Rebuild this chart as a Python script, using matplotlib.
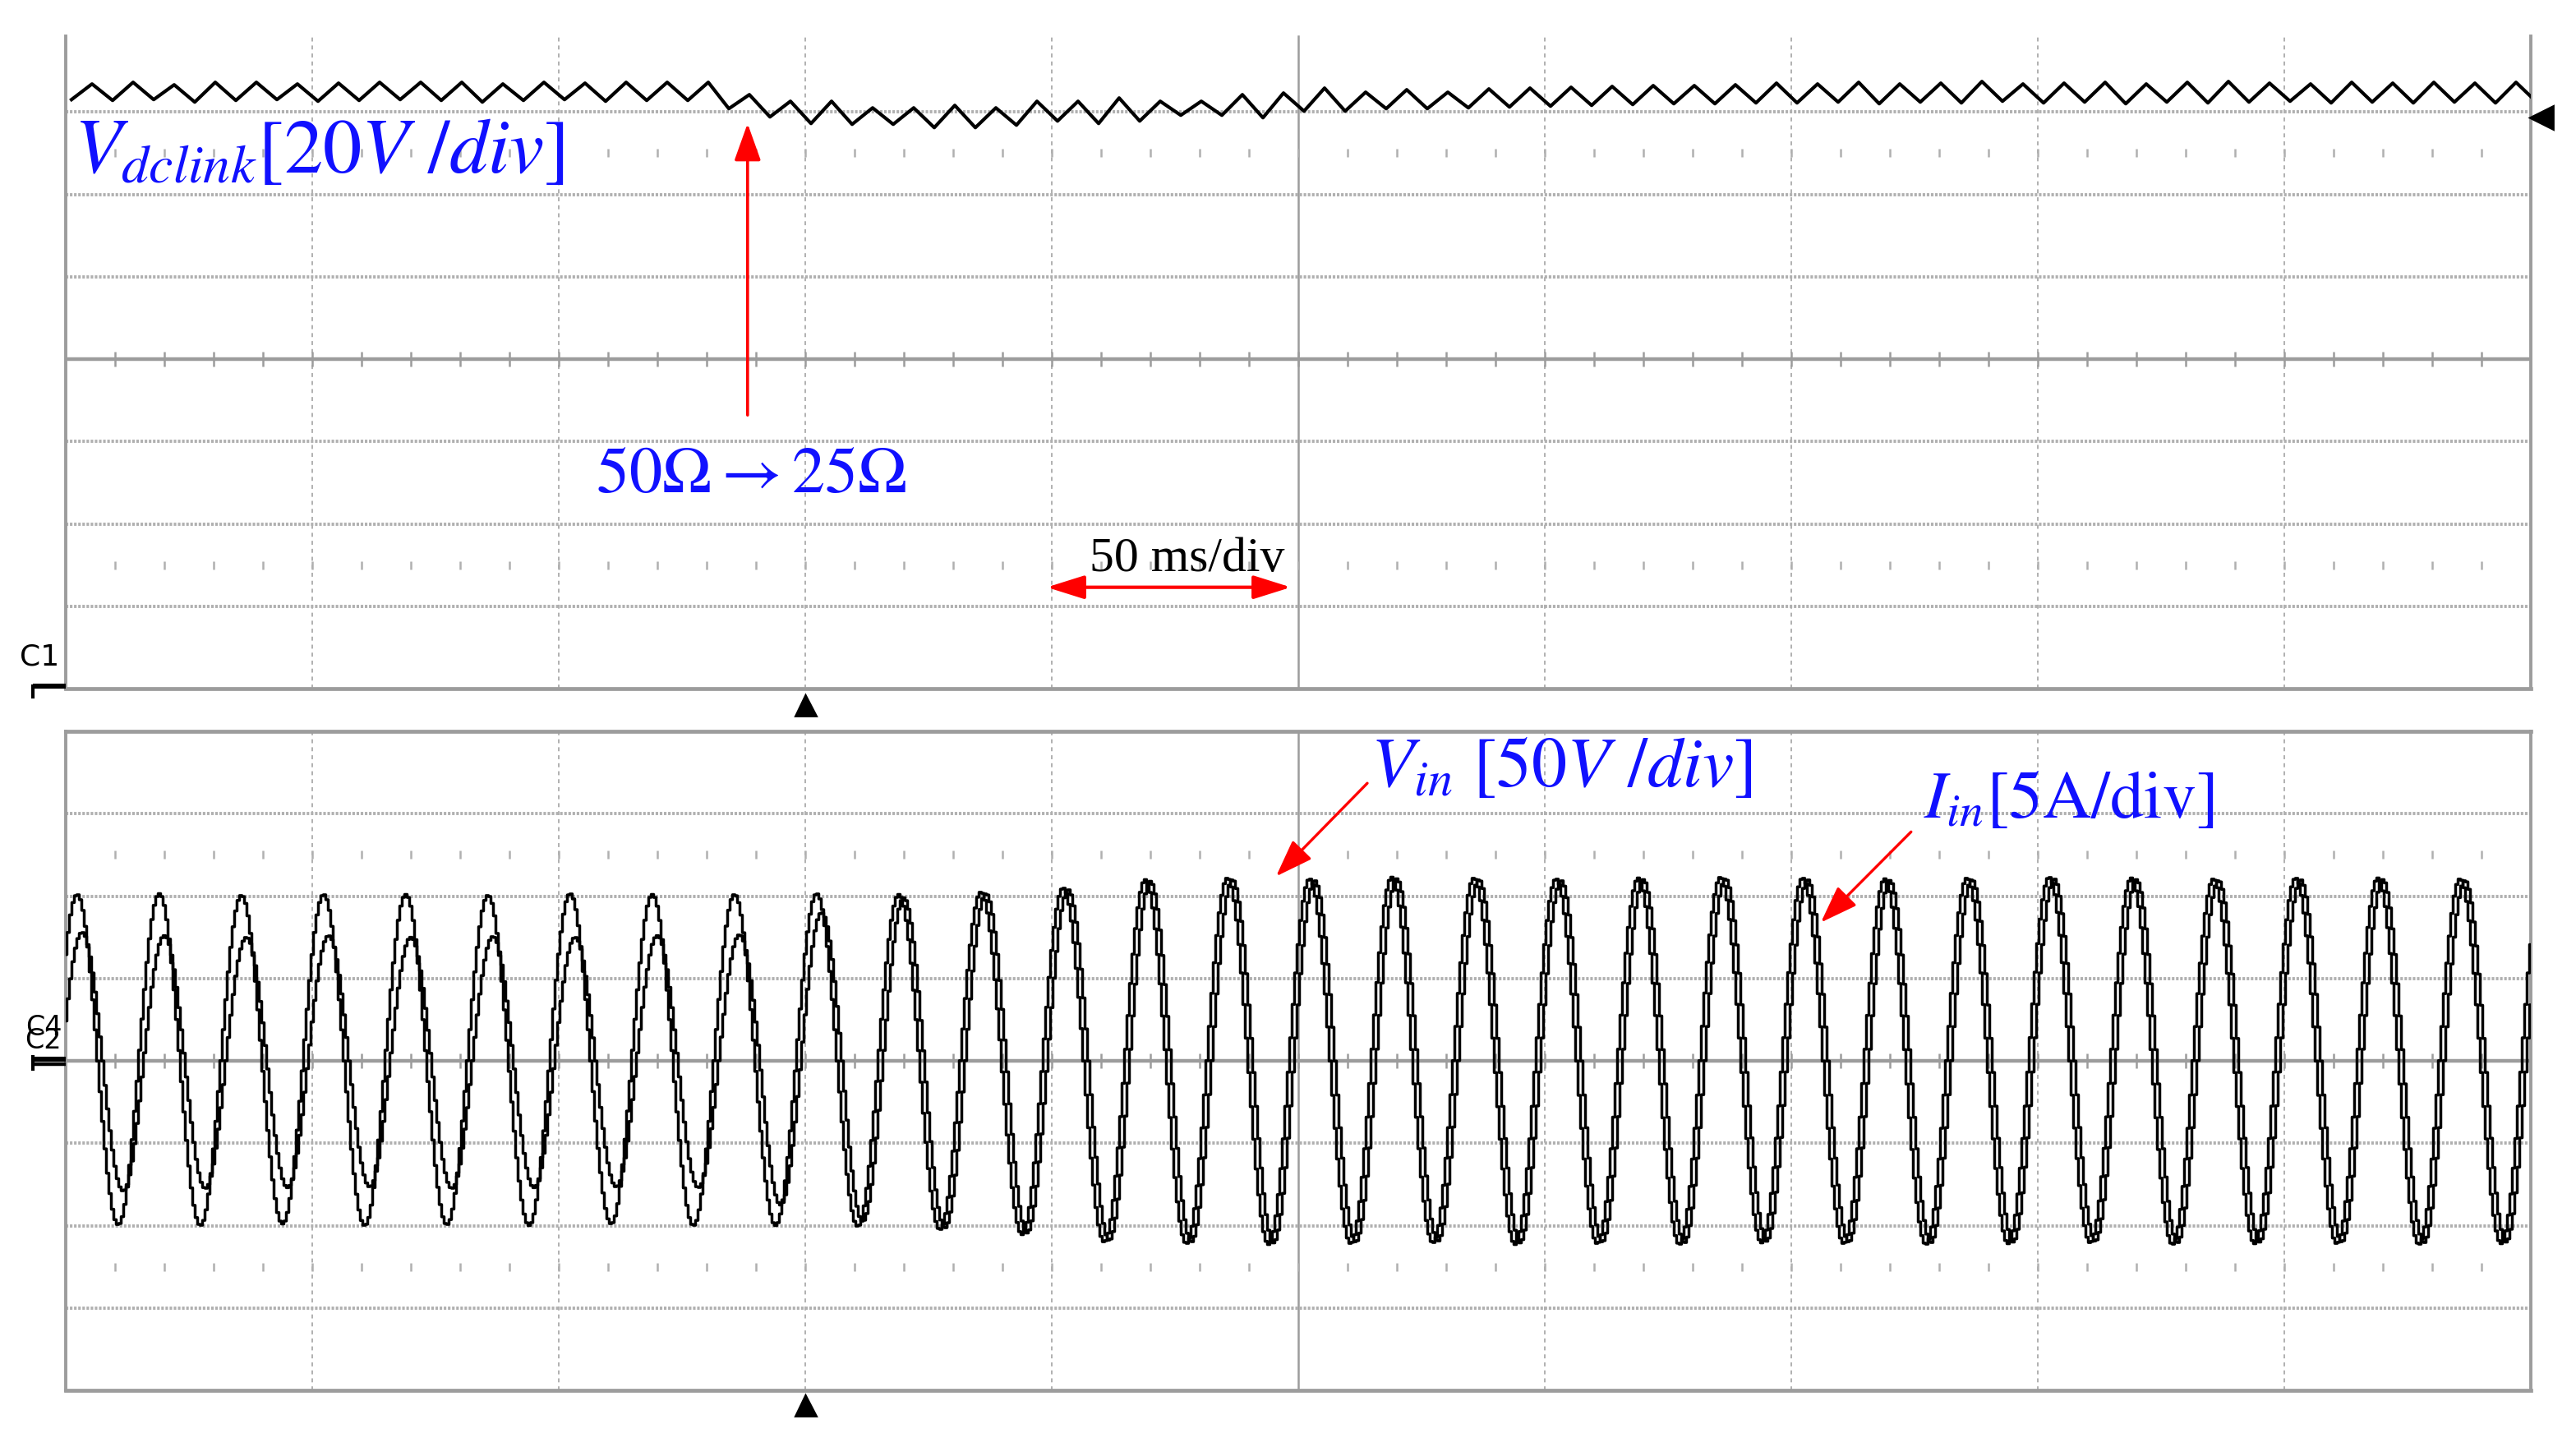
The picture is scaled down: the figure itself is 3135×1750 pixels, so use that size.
import numpy as np
import matplotlib
matplotlib.use('Agg')
import matplotlib.pyplot as plt

plt.rcParams['mathtext.fontset'] = 'stix'

# Escalas del osciloscopio
time_per_div = 50          # ms/div
screen_time = 500          # ms (10 div)
line_period = 1000 / 60    # ms, red de 60 Hz
ripple_period = line_period / 2

# V_dclink: picos y valles del rizado (en divisiones)
vdc_peak_t0 = 5.33
vdc_trough_t0 = 1.17
vdc_peaks = [3.34, 3.36, 3.33, 3.36, 3.36, 3.34, 3.35, 3.36, 3.36, 3.36, 3.34, 3.36, 3.35, 3.36, 3.36, 3.36,
             3.21, 3.13, 3.13, 3.05, 3.05, 3.08, 3.05, 3.13, 3.13, 3.17, 3.13, 3.13, 3.21, 3.23, 3.29, 3.24, 3.27, 3.24,
             3.28, 3.29, 3.30, 3.31, 3.32, 3.32, 3.33,
             3.35, 3.34, 3.36, 3.34, 3.35, 3.37, 3.34, 3.35, 3.36, 3.34, 3.36, 3.37, 3.35, 3.34, 3.36, 3.35, 3.36, 3.35, 3.36]
vdc_troughs = [3.15, 3.14, 3.15, 3.12, 3.14, 3.15, 3.13, 3.14, 3.15, 3.14, 3.12, 3.14, 3.15, 3.13, 3.14, 3.14,
               3.04, 2.94, 2.86, 2.85, 2.85, 2.81, 2.81, 2.84, 2.89, 2.86, 2.89, 2.96, 2.96, 2.93, 3.01, 3.01, 3.04, 3.04,
               3.05, 3.06, 3.07, 3.08, 3.09, 3.10, 3.10, 3.11,
               3.11, 3.12, 3.10, 3.12, 3.11, 3.13, 3.11, 3.12, 3.10, 3.12, 3.11, 3.12, 3.13, 3.11, 3.12, 3.11, 3.12, 3.11,
               3.12]

# V_in e I_in: amplitud de cada semiciclo (en divisiones)
vin_peak_t0 = 2.33
iin_lag = 1.0
vin_peaks = [2.02, 2.03, 2.01, 2.02, 2.02, 2.01, 2.03, 2.02, 2.02, 2.03, 2.02, 2.05, 2.10,
             2.20, 2.22, 2.21, 2.23, 2.22, 2.21, 2.22, 2.23, 2.22, 2.21, 2.22, 2.23, 2.22, 2.21, 2.22, 2.22, 2.21]
vin_troughs = [1.99, 2.00, 1.98, 2.00, 1.99, 2.00, 1.98, 2.00, 2.00, 2.01, 2.05, 2.11, 2.20,
               2.22, 2.23, 2.22, 2.21, 2.23, 2.22, 2.23, 2.21, 2.22, 2.23, 2.22, 2.21, 2.23, 2.22, 2.22, 2.23, 2.22]
iin_peaks = [1.56, 1.52, 1.50, 1.52, 1.50, 1.51, 1.50, 1.52, 1.53, 1.80, 1.98, 2.03, 2.08,
             2.18, 2.20, 2.19, 2.21, 2.20, 2.19, 2.20, 2.21, 2.20, 2.19, 2.20, 2.21, 2.20, 2.19, 2.20, 2.20, 2.19]
iin_troughs = [1.58, 1.55, 1.54, 1.53, 1.55, 1.54, 1.53, 1.54, 1.75, 1.95, 2.03, 2.09, 2.18,
               2.20, 2.21, 2.20, 2.19, 2.21, 2.20, 2.21, 2.19, 2.20, 2.21, 2.20, 2.19, 2.21, 2.20, 2.20, 2.21, 2.20]


def sine_trace(t, t0, peaks, troughs):
    ph = 2 * np.pi * (t - t0) / line_period
    c = np.cos(ph)
    n_peak = np.clip(np.round(ph / (2 * np.pi)).astype(int), 0, len(peaks) - 1)
    n_trough = np.clip(np.floor(ph / (2 * np.pi)).astype(int), 0, len(troughs) - 1)
    amp = np.where(c >= 0, np.array(peaks)[n_peak], np.array(troughs)[n_trough])
    return c * amp


GRID = '#b0b0b0'
FRAME = '#9c9c9c'


def draw_screen(ax, top_border=True):
    ax.set_xlim(0, screen_time)
    ax.set_ylim(-4, 4)
    ax.axis('off')
    ytop = 4 if top_border else 3.92
    for i in range(1, 10):
        x = i * time_per_div
        if i == 5:
            ax.plot([x, x], [-4, ytop], color=FRAME, lw=0.9, zorder=1)
        else:
            ax.plot([x, x], [-4, ytop], color=GRID, lw=0.7, ls=(0, (2.5, 2.5)), zorder=1)
    for y in [-3, -2, -1, 1, 2, 3]:
        ax.plot([0, screen_time], [y, y], color=GRID, lw=1.4, ls=(0, (0.8, 0.5)), zorder=1)
    ax.plot([0, screen_time], [0, 0], color=FRAME, lw=1.6, zorder=1)
    minor = np.arange(10, screen_time, 10)
    ax.vlines(minor, -0.09, 0.09, color=FRAME, lw=0.9, zorder=1)
    for y in [2.5, -2.5]:
        ax.vlines(minor, y - 0.05, y + 0.05, color=GRID, lw=0.9, zorder=1)
    # marco
    ax.plot([0, 0], [-4, ytop], color=FRAME, lw=1.4, clip_on=False)
    ax.plot([screen_time, screen_time], [-4, ytop], color=FRAME, lw=1.4, clip_on=False)
    ax.plot([0, screen_time], [-4, -4], color=FRAME, lw=1.7, clip_on=False)
    if top_border:
        ax.plot([0, screen_time], [4, 4], color=FRAME, lw=1.7, clip_on=False)


fig = plt.figure(figsize=(15.675, 8.75), dpi=200)
ax1 = fig.add_axes([80 / 3135, 1 - 838 / 1750, 3000 / 3135, 802 / 1750])
ax2 = fig.add_axes([80 / 3135, 1 - 1692 / 1750, 3000 / 3135, 802 / 1750])
draw_screen(ax1, top_border=False)
draw_screen(ax2, top_border=True)

# ---- Canal 1: V_dclink ----
t_pk = vdc_peak_t0 + np.arange(len(vdc_peaks)) * ripple_period
t_tr = vdc_trough_t0 + np.arange(len(vdc_troughs)) * ripple_period
t_dc = np.concatenate([t_pk, t_tr])
v_dc = np.concatenate([vdc_peaks, vdc_troughs])
order = np.argsort(t_dc)
ax1.plot(t_dc[order], v_dc[order], color='black', lw=1.5, zorder=3)

# ---- Canales 2 y 4: V_in, I_in ----
t = np.linspace(0, screen_time, 1001)
vin = sine_trace(t, vin_peak_t0, vin_peaks, vin_troughs)
iin = sine_trace(t, vin_peak_t0 + iin_lag, iin_peaks, iin_troughs)
ax2.plot(t, vin, color='black', lw=1.25, drawstyle='steps-mid', zorder=3)
ax2.plot(t, iin, color='black', lw=1.25, drawstyle='steps-mid', zorder=3)

# ---- anotaciones ----
blue = '#1010ff'
red = '#ff0000'
ax1.text(1.7, 2.26, r'$V_{dclink}[20V\ /div]$', color=blue, fontsize=34,
         ha='left', va='baseline')
ax1.text(107.5, -1.62, r'$50\Omega \rightarrow 25\Omega$', color=blue, fontsize=29,
         ha='left', va='baseline')
ax1.annotate('', xy=(138.3, 2.86), xytext=(138.3, -0.68),
             arrowprops=dict(arrowstyle='-|>,head_length=0.7,head_width=0.25',
                             mutation_scale=20, color=red, lw=1.3, shrinkA=0, shrinkB=0))
ax1.text(227.5, -2.57, '50 ms/div', family='Liberation Serif', fontsize=21.5,
         ha='center', va='baseline', color='black')
ax1.annotate('', xy=(199, -2.77), xytext=(248.5, -2.77),
             arrowprops=dict(arrowstyle='<|-|>,head_length=0.7,head_width=0.22',
                             mutation_scale=20, color=red, lw=1.5, shrinkA=0, shrinkB=0))

ax2.text(264.7, 3.33, r'$V_{in}\ [50V\ /div]$', color=blue, fontsize=31,
         ha='left', va='baseline')
ax2.text(376.8, 2.95, r'$I_{in}[5\mathrm{A/div}]$', color=blue, fontsize=29.5,
         ha='left', va='baseline')
ax2.annotate('', xy=(245.5, 2.24), xytext=(264, 3.37),
             arrowprops=dict(arrowstyle='-|>,head_length=0.7,head_width=0.25',
                             mutation_scale=20, color=red, lw=1.2, shrinkA=0, shrinkB=0))
ax2.annotate('', xy=(356, 1.68), xytext=(374.3, 2.78),
             arrowprops=dict(arrowstyle='-|>,head_length=0.7,head_width=0.25',
                             mutation_scale=20, color=red, lw=1.2, shrinkA=0, shrinkB=0))

# ---- marcadores del osciloscopio ----
ax1.plot([150], [-4.2], marker='^', color='black', ms=9, clip_on=False)
ax2.plot([150], [-4.18], marker='^', color='black', ms=9, clip_on=False)
ax1.plot([502.2], [2.93], marker='<', color='black', ms=10, clip_on=False)

ax1.text(-1.3, -3.62, 'C1', fontsize=13, ha='right', va='center', color='black')
ax1.plot([-6.7, 0], [-3.97, -3.97], color='black', lw=2.2, clip_on=False, solid_capstyle='butt')
ax1.plot([-6.7, -6.7], [-3.97, -4.1], color='black', lw=1.5, clip_on=False)

ax2.text(-0.8, 0.32, 'C4\nC2', fontsize=12, ha='right', va='center', color='black',
         linespacing=0.35)
ax2.plot([-6.7, 0], [0.02, 0.02], color='black', lw=2.2, clip_on=False, solid_capstyle='butt')
ax2.plot([-6.7, 0], [-0.04, -0.04], color='black', lw=1.6, clip_on=False, solid_capstyle='butt')
ax2.plot([-6.7, -6.7], [0.05, -0.1], color='black', lw=1.5, clip_on=False)

fig.savefig('out.png', dpi=200, facecolor='white')
